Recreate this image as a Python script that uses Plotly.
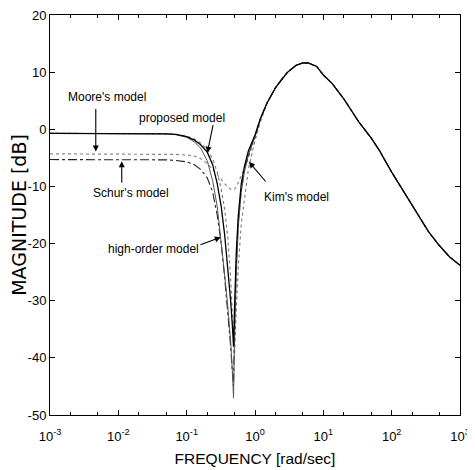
import plotly.graph_objects as go

# ---------------- data ----------------
# shared high-frequency part (all models coincide)
tail_freq = [1.5, 2, 2.5, 3, 4, 5, 6, 8, 10, 13.5, 20, 33, 50, 66, 100, 128, 200, 253, 350, 495, 700, 1000]
tail_db = [4.6, 7.3, 8.9, 10.0, 11.2, 11.6, 11.6, 11.0, 9.5, 8.0, 5.3, 1.3, -1.5, -3.7, -7.5, -9.5, -13.3, -15.3, -18.0, -20.3, -22.3, -23.8]

low_freq = [0.001, 0.01, 0.03, 0.05, 0.07, 0.1, 0.13, 0.16, 0.2, 0.24, 0.28, 0.32, 0.36, 0.4, 0.44, 0.47,
            0.485, 0.5, 0.53, 0.57, 0.63, 0.7, 0.8, 0.9, 1.0, 1.2]

high_order_db = [-0.7, -0.7, -0.72, -0.8, -0.95, -1.4, -2.2, -3.3, -5.5, -9.0, -13.5, -19.5, -25.5, -31, -37, -43,
                 -47, -38, -26, -17, -11, -7.5, -4.5, -2.7, -1.4, 1.8]
proposed_db = [-0.7, -0.7, -0.72, -0.8, -0.9, -1.3, -1.9, -2.7, -4.0, -6.2, -9.5, -13.5, -18.5, -24, -30, -35,
               -38, -32, -22, -15, -9.5, -6.5, -3.8, -2.3, -1.0, 1.9]
moore_db = [-4.3, -4.3, -4.3, -4.3, -4.4, -4.5, -4.7, -5.1, -6.0, -7.0, -8.0, -8.8, -9.5, -10.1, -10.5, -10.6,
            -10.6, -10.5, -10.1, -9.3, -8.2, -6.9, -5.0, -3.0, -1.2, 1.7]
schur_db = [-5.3, -5.3, -5.3, -5.35, -5.45, -5.7, -6.2, -7.0, -8.5, -11, -15, -20, -26, -32, -38, -43,
            -45, -35, -24, -16, -10.5, -7, -4.4, -2.6, -1.3, 1.8]
kim_db = [-0.7, -0.7, -0.72, -0.8, -0.9, -1.2, -1.7, -2.4, -3.5, -5.2, -7.5, -10.5, -14, -19, -26, -33,
          -38, -40, -32, -24, -16.5, -12, -7.0, -4.3, -2.0, 1.3]

x_tick_vals = [0.001, 0.01, 0.1, 1, 10, 100, 1000]
x_tick_text = ["10<sup>-3</sup>", "10<sup>-2</sup>", "10<sup>-1</sup>", "10<sup>0</sup>",
               "10<sup>1</sup>", "10<sup>2</sup>", "10<sup>3</sup>"]
y_tick_vals = [-50, -40, -30, -20, -10, 0, 10, 20]
y_tick_text = ["-50", "-40", "-30", "-20", "-10", "0", "10", "20"]

# ---------------- figure ----------------
series = [
    ("Moore's model", moore_db, dict(color="#888888", width=1.2, dash="dot")),
    ("Schur's model", schur_db, dict(color="#222222", width=1.1, dash="dashdot")),
    ("Kim's model", kim_db, dict(color="#777777", width=1.1, dash="dot")),
    ("high-order model", high_order_db, dict(color="#555555", width=1.0, dash="solid")),
    ("proposed model", proposed_db, dict(color="#000000", width=1.3, dash="solid")),
]

fig = go.Figure()
for name, db, line in series:
    fig.add_trace(go.Scatter(x=low_freq + tail_freq, y=db + tail_db, mode="lines",
                             name=name, line=line, showlegend=False))

FONT = "Liberation Sans, Arial, sans-serif"
ann_font = dict(family=FONT, size=12, color="black")


# annotation positions on the log x axis are given as log10(frequency)
def arrow(tx, ty, ax, ay):
    fig.add_annotation(x=tx, y=ty, ax=ax, ay=ay, xref="x", yref="y", axref="x", ayref="y",
                       text="", showarrow=True, arrowhead=2, arrowsize=1.1, arrowwidth=1.1,
                       arrowcolor="black")


def label(text, x, y):
    fig.add_annotation(x=x, y=y, xref="x", yref="y", text=text, showarrow=False,
                       font=ann_font, xanchor="center", yanchor="middle")


label("Moore's model", -2.17, 5.6)
arrow(-2.33, -3.9, -2.33, 3.8)
label("proposed model", -1.07, 1.9)
arrow(-0.697, -4.1, -0.61, 1.0)
label("Schur's model", -1.82, -11.1)
arrow(-1.95, -5.6, -1.95, -9.6)
label("Kim's model", 0.6, -11.8)
arrow(-0.088, -5.7, 0.175, -9.4)
label("high-order model", -1.48, -20.9)
arrow(-0.5, -18.9, -0.82, -20.3)

axis_common = dict(showline=True, linecolor="black", linewidth=1, mirror="ticks", ticks="inside",
                   tickcolor="black", ticklen=5, showgrid=False, zeroline=False, automargin=False,
                   ticklabeloverflow="allow",
                   tickfont=dict(family=FONT, size=13, color="black"))

fig.update_xaxes(type="log", range=[-3, 3], tickvals=x_tick_vals, ticktext=x_tick_text,
                 ticklabelstandoff=9,
                 minor=dict(ticks="inside", ticklen=3, tickcolor="black", showgrid=False),
                 title=dict(text="FREQUENCY [rad/sec]", font=dict(family=FONT, size=15.5, color="black"),
                            standoff=10),
                 **axis_common)
fig.update_yaxes(range=[-50, 20], tickvals=y_tick_vals, ticktext=y_tick_text,
                 title=dict(text="MAGNITUDE [dB]",
                            font=dict(family="DejaVu Sans, Liberation Sans, sans-serif", size=19, color="black"),
                            standoff=0),
                 **axis_common)

# page body adds an 8 px offset, so the figure is sized to fit the 475x470 window
fig.update_layout(width=467, height=462, margin=dict(l=42, r=15, t=7, b=55),
                  plot_bgcolor="white", paper_bgcolor="white", showlegend=False)

fig.write_html("out.html")
